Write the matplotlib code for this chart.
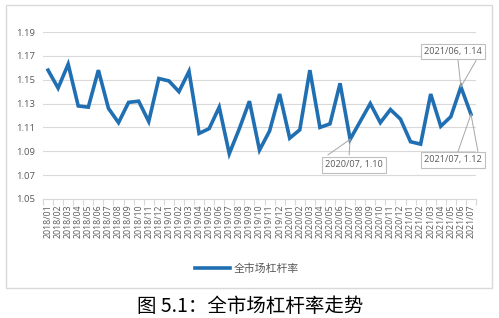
import matplotlib
matplotlib.use("Agg")
import matplotlib.pyplot as plt
import numpy as np
from matplotlib.patches import Rectangle

plt.rcParams['font.family'] = ['Open Sans', 'Noto Sans CJK SC', 'DejaVu Sans']

months = [f"{y}/{m:02d}" for y in (2018, 2019, 2020, 2021) for m in range(1, 13)][:43]
values = [1.158, 1.143, 1.163, 1.128, 1.127, 1.158, 1.126, 1.114, 1.131, 1.132,
          1.115, 1.151, 1.149, 1.140, 1.157, 1.105, 1.109, 1.127, 1.088, 1.109,
          1.132, 1.091, 1.107, 1.138, 1.101, 1.108, 1.158, 1.110, 1.113, 1.147,
          1.100, 1.115, 1.130, 1.114, 1.125, 1.117, 1.098, 1.096, 1.138, 1.111,
          1.119, 1.144, 1.121]
series_name = "全市场杠杆率"
title = "图 5.1：全市场杠杆率走势"
yticks = [1.05, 1.07, 1.09, 1.11, 1.13, 1.15, 1.17, 1.19]
# annotated points: (index, label text, label box center (x, y), leader end points)
annots = [
    (41, "2021/06, 1.14", (40.2, 1.1735), [(40.7, 1.1676), (42.5, 1.1660)]),
    (42, "2021/07, 1.12", (40.2, 1.0828), [(40.7, 1.0895), (42.7, 1.0895)]),
    (30, "2020/07, 1.10", (30.4, 1.0786), [(27.8, 1.0870), (29.9, 1.0870)]),
]

W, H = 499, 318
fig = plt.figure(figsize=(W / 100, H / 100), dpi=100)
border = Rectangle((6 / W, 1 - 288 / H), 486 / W, 283 / H, transform=fig.transFigure,
                   facecolor='white', edgecolor='#d9d9d9', linewidth=1.0, zorder=-10)
fig.add_artist(border)

ax = fig.add_axes([43 / W, 1 - 199 / H, 433 / W, 167 / H])
ax.set_facecolor('none')
ax.set_zorder(1)
x = np.arange(len(values))
line, = ax.plot(x, values, color='#1f6fb2', linewidth=2.6, solid_joinstyle='miter', zorder=3)

ax.set_xlim(-0.5, len(values) - 0.5)
ax.set_ylim(1.05, 1.19)
ax.set_yticks(yticks)
ax.set_yticklabels([f"{v:.2f}" for v in yticks], fontsize=6.8, color='#595959')
ax.grid(axis='y', color='#d9d9d9', linewidth=0.8)
ax.set_axisbelow(True)
ax.set_xticks(x)
ax.set_xticklabels(months, rotation=90, fontsize=6.3, color='#595959')
ax.tick_params(axis='x', which='major', length=0, pad=4)
ax.set_xticks(np.arange(-0.5, len(values), 1), minor=True)
ax.tick_params(axis='x', which='minor', length=4, color='#d9d9d9', width=0.8)
ax.tick_params(axis='y', length=0, pad=6)
for s in ('left', 'right', 'top'):
    ax.spines[s].set_visible(False)
ax.spines['bottom'].set_color('#d9d9d9')
ax.spines['bottom'].set_linewidth(0.8)

for idx, txt, (bx, by), ends in annots:
    for ex, ey in ends:
        ax.plot([idx, ex], [values[idx], ey], color='#a6a6a6', linewidth=0.7,
                clip_on=False, zorder=4)
    ax.text(bx, by, txt, fontsize=6.6, color='#595959', ha='center', va='center', zorder=5,
            clip_on=False,
            bbox=dict(boxstyle='square,pad=0.35', facecolor='white', edgecolor='#bfbfbf',
                      linewidth=0.8))

leg = fig.legend([line], [series_name], loc='center', bbox_to_anchor=(247 / W, 1 - 269 / H),
                 frameon=False, handlelength=3.2, handletextpad=0.4,
                 prop={'family': ['Noto Sans CJK SC', 'DejaVu Sans'], 'size': 7.8})
for t in leg.get_texts():
    t.set_color('#595959')

fig.text(250 / W, 1 - 307 / H, title, ha='center', va='center', fontsize=14,
         family=['Noto Sans CJK SC', 'DejaVu Sans'], color='black')

fig.savefig('out.png', dpi=100)
